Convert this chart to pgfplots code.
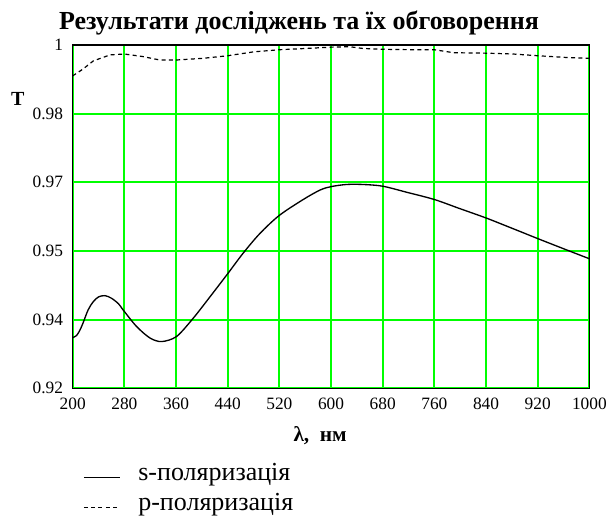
\documentclass[border=0pt]{standalone}
\usepackage{fontspec}
\setmainfont{Liberation Serif}
\usepackage{pgfplots}
\pgfplotsset{compat=1.18}

\definecolor{mcgreen}{RGB}{0,255,0}

% s- and p-polarisation transmittance
\pgfplotstableread{
lam T
200 0.9318
206 0.9323
211 0.9335
216 0.9352
224 0.9383
232 0.9402
240 0.9413
250 0.9416
260 0.9410
271 0.9397
278 0.9383
299 0.9344
320 0.9317
338 0.9309
361 0.9321
387 0.9364
413 0.9414
440 0.9467
464 0.9515
490 0.9561
520 0.9603
557 0.9640
583 0.9662
600 0.9670
624 0.9675
650 0.9675
680 0.9671
717 0.9657
760 0.9640
799 0.9619
840 0.9597
882 0.9572
920 0.9549
964 0.9523
1000 0.9502
}\spol

\pgfplotstableread{
lam T
200 0.9928
216 0.9944
232 0.9963
258 0.9977
280 0.9979
309 0.9973
335 0.9965
360 0.9965
402 0.9969
440 0.9975
480 0.9984
520 0.9989
562 0.9992
600 0.9995
629 0.9996
649 0.9992
680 0.9990
727 0.9989
760 0.9989
790 0.9982
840 0.9981
882 0.9979
920 0.9975
964 0.9971
1000 0.9969
}\ppol

\begin{document}
\begin{tikzpicture}[x=0.75pt,y=0.75pt]
\useasboundingbox (0,0) rectangle (610,515);

\node[anchor=base,font=\bfseries\fontsize{19.5}{22}\selectfont] at (299,485.7)
  {Результати досліджень та їх обговорення};

\begin{axis}[
    at={(54.5pt,95pt)}, anchor=south west,
    scale only axis,
    width=387.5pt, height=257.5pt,
    xmin=200, xmax=1000,
    ymin=0.92, ymax=1,
    xtick={200,280,...,1000},
    ytick={0.92,0.936,0.952,0.968,0.984,1},
    yticklabels={0.92,0.94,0.95,0.97,0.98,1},
    /pgf/number format/assume math mode=true,
    ticklabel style={font=\fontsize{13}{15}\selectfont, inner sep=0pt},
    xticklabel style={/pgf/number format/1000 sep={}, anchor=base, yshift=-16.1pt},
    yticklabel style={anchor=east, xshift=-7pt},
    major tick length=0pt,
    grid=major,
    major grid style={mcgreen, line width=1.4pt},
    axis line style={black, line width=1.1pt},
    xlabel={\bfseries λ,\ \ нм},
    xlabel style={font=\fontsize{16}{18}\selectfont, at={(axis description cs:0.479,-0.156)}, anchor=base},
    ylabel={\bfseries T},
    ylabel style={font=\fontsize{15}{18}\selectfont, rotate=-90, at={(axis description cs:-0.106,0.843)}, anchor=center},
    legend style={at={(axis description cs:0.02,-0.216)}, anchor=north west,
        draw=none, fill=none, font=\fontsize{19.5}{21}\selectfont,
        inner sep=0pt, column sep=13.5pt,
        nodes={inner sep=0pt, text height=13.5pt, text depth=9pt}},
    legend cell align=left,
    legend image code/.code={\draw[#1, line width=0.8pt] (0pt,0pt) -- (27pt,0pt);},
]
\addplot[black, line width=1pt, smooth] table[x=lam, y=T] {\spol};
\addplot[black, line width=0.9pt, dash pattern=on 3pt off 2.5pt] table[x=lam, y=T] {\ppol};
\legend{s-поляризація, p-поляризація}
\end{axis}
\end{tikzpicture}
\end{document}
